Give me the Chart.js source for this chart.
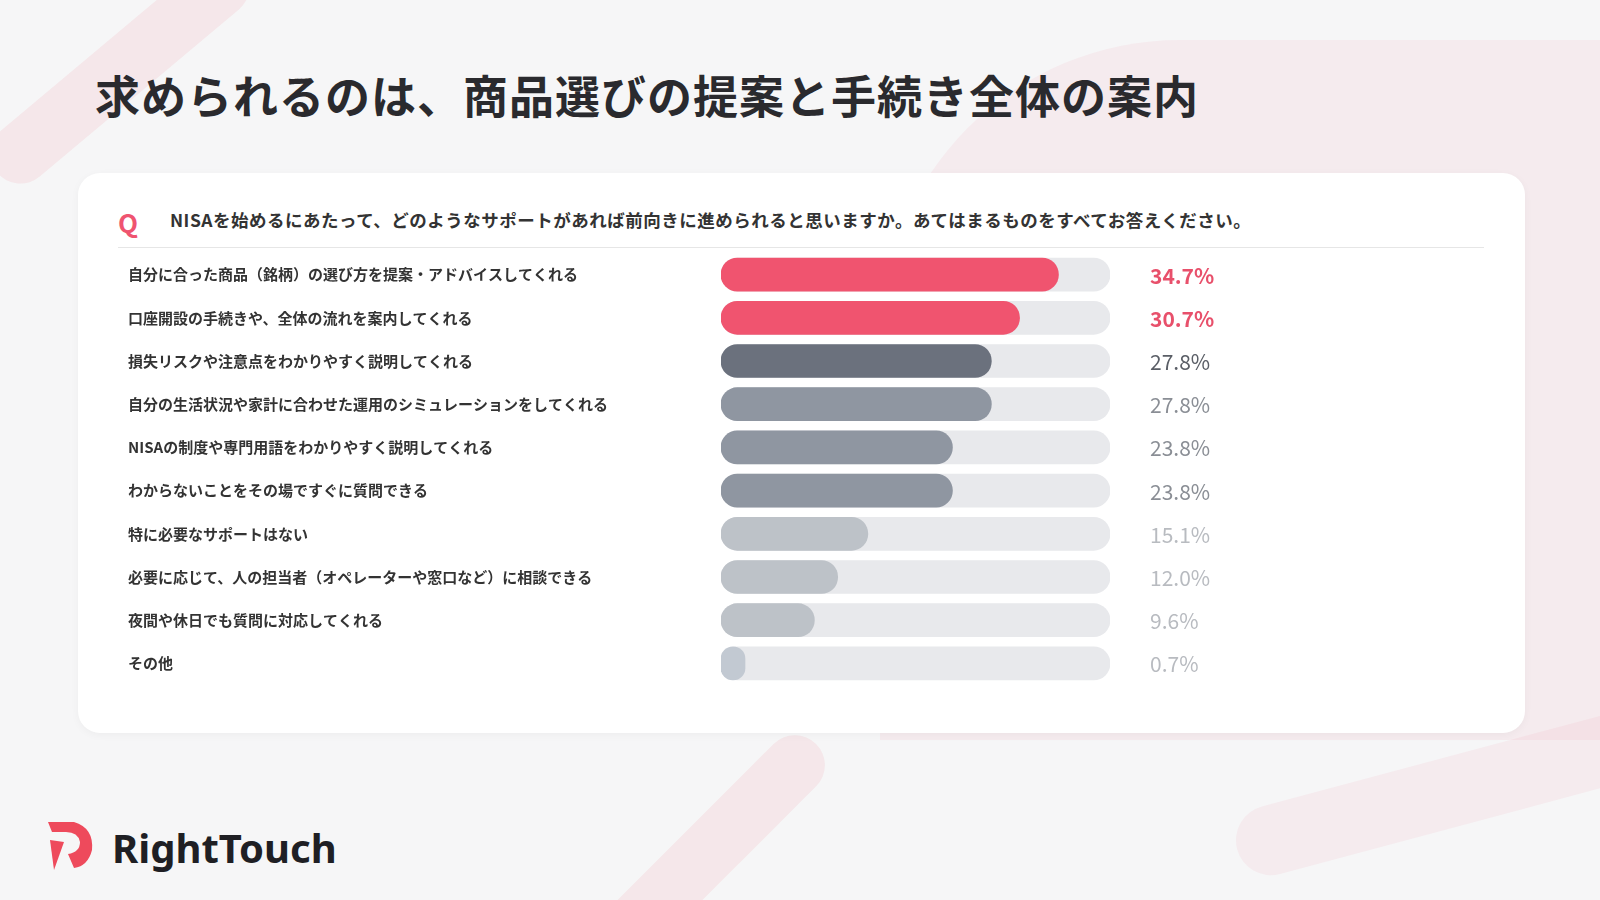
<!DOCTYPE html>
<html><head><meta charset="utf-8">
<script src="https://cdn.jsdelivr.net/npm/chart.js@4"></script>
<style>
body{margin:0;width:1600px;height:900px;overflow:hidden;background:#f6f6f7;font-family:"Noto Sans CJK JP","Noto Sans",sans-serif;position:relative}
.deco{position:absolute;background:rgba(240,120,140,0.12);border-radius:40px}
#title{position:absolute;left:95px;top:62px;font-size:45px;font-weight:bold;color:#2a2a2e;letter-spacing:1px}
#card{position:absolute;left:78px;top:173px;width:1447px;height:560px;background:#fff;border-radius:22px;box-shadow:0 2px 8px rgba(0,0,0,0.04)}
#q{position:absolute;left:118px;top:203px;font-size:26px;font-weight:bold;color:#ef5470}
#qt{position:absolute;left:170px;top:207px;font-size:17.5px;font-weight:bold;color:#333;letter-spacing:0.5px}
#rule{position:absolute;left:118px;top:247px;width:1366px;height:1px;background:#e6e6e6}
#wrap{position:absolute;left:128px;top:244px;width:1112px;height:450px}
#logo{position:absolute;left:112px;top:820px;font-size:40px;font-weight:bold;color:#1f1f24;font-family:"Noto Sans",sans-serif}
</style></head><body>
<div class="deco" style="left:-40px;top:40px;width:320px;height:60px;transform:rotate(-40deg)"></div>
<div class="deco" style="left:880px;top:40px;width:900px;height:700px;border-radius:300px 0 0 0;background:rgba(240,120,140,0.08)"></div>
<div class="deco" style="left:560px;top:820px;width:300px;height:60px;transform:rotate(-45deg)"></div>
<div class="deco" style="left:1230px;top:760px;width:420px;height:70px;transform:rotate(-15deg);background:rgba(240,120,140,0.08)"></div>
<div id="title">求められるのは、商品選びの提案と手続き全体の案内</div>
<div id="card"></div>
<div id="q">Q</div>
<div id="qt">NISAを始めるにあたって、どのようなサポートがあれば前向きに進められると思いますか。あてはまるものをすべてお答えください。</div>
<div id="rule"></div>
<div id="wrap"><canvas id="c"></canvas></div>
<svg style="position:absolute;left:46px;top:820px" width="50" height="50" viewBox="0 0 50 50"><path d="M2 2 L28 2 Q48 8 46 30 Q42 46 28 48 L22 34 Q34 32 34 22 Q32 12 20 12 L6 12 Z" fill="#ee4a5c"/><path d="M4 20 L18 22 L8 50 Z" fill="#ee4a5c"/></svg>
<div id="logo">RightTouch</div>
<script>
var categories = ['自分に合った商品（銘柄）の選び方を提案・アドバイスしてくれる','口座開設の手続きや、全体の流れを案内してくれる','損失リスクや注意点をわかりやすく説明してくれる','自分の生活状況や家計に合わせた運用のシミュレーションをしてくれる','NISAの制度や専門用語をわかりやすく説明してくれる','わからないことをその場ですぐに質問できる','特に必要なサポートはない','必要に応じて、人の担当者（オペレーターや窓口など）に相談できる','夜間や休日でも質問に対応してくれる','その他'];
var values = [34.7,30.7,27.8,27.8,23.8,23.8,15.1,12.0,9.6,0.7];
var trackMax = [40,40,40,40,40,40,40,40,40,40];
var barColors = ['#f0546f','#f0546f','#6b717d','#8f96a1','#8f96a1','#8f96a1','#bdc2c8','#bdc2c8','#bdc2c8','#c2c9d2'];
var textColors = ['#e8506b','#e8506b','#5a5e66','#8a8e95','#8a8e95','#8a8e95','#b8bbc0','#b8bbc0','#b8bbc0','#b8bbc0'];

var valueLabels = {
    id: 'valueLabels',
    afterDatasetsDraw: function(chart){
        var ctx = chart.ctx;
        var meta = chart.getDatasetMeta(1);
        ctx.save();
        ctx.textBaseline = 'middle';
        meta.data.forEach(function(bar, i){
            ctx.font = (i < 2 ? 'bold ' : '') + '21px "Noto Sans CJK JP"';
            ctx.fillStyle = textColors[i];
            ctx.fillText(values[i].toFixed(1) + '%', chart.chartArea.right + 40, bar.y + 1);
        });
        ctx.restore();
    }
};

new Chart(document.getElementById('c'), {
    type: 'bar',
    data: {
        labels: categories,
        datasets: [{
            data: trackMax,
            backgroundColor: '#e8e9ec',
            barThickness: 33,
            borderRadius: 17,
            borderSkipped: false,
            grouped: false,
            order: 2
        },{
            data: values,
            backgroundColor: barColors,
            barThickness: 33,
            borderRadius: 17,
            borderSkipped: false,
            minBarLength: 24,
            grouped: false,
            order: 1
        }]
    },
    options: {
        indexAxis: 'y',
        responsive: true,
        maintainAspectRatio: false,
        animation: false,
        layout: { padding: { right: 130, top: 0, bottom: 0 } },
        plugins: { legend: { display: false }, tooltip: { enabled: false } },
        scales: {
            x: { min: 0, max: 40, display: false },
            y: {
                grid: { display: false },
                border: { display: false },
                afterFit: function(scale){ scale.width = 593; },
                ticks: {
                    crossAlign: 'far',
                    color: '#333',
                    font: { size: 15, weight: 'bold', family: '"Noto Sans CJK JP"' },
                    padding: 0
                }
            }
        }
    },
    plugins: [valueLabels]
});
</script>
</body></html>
